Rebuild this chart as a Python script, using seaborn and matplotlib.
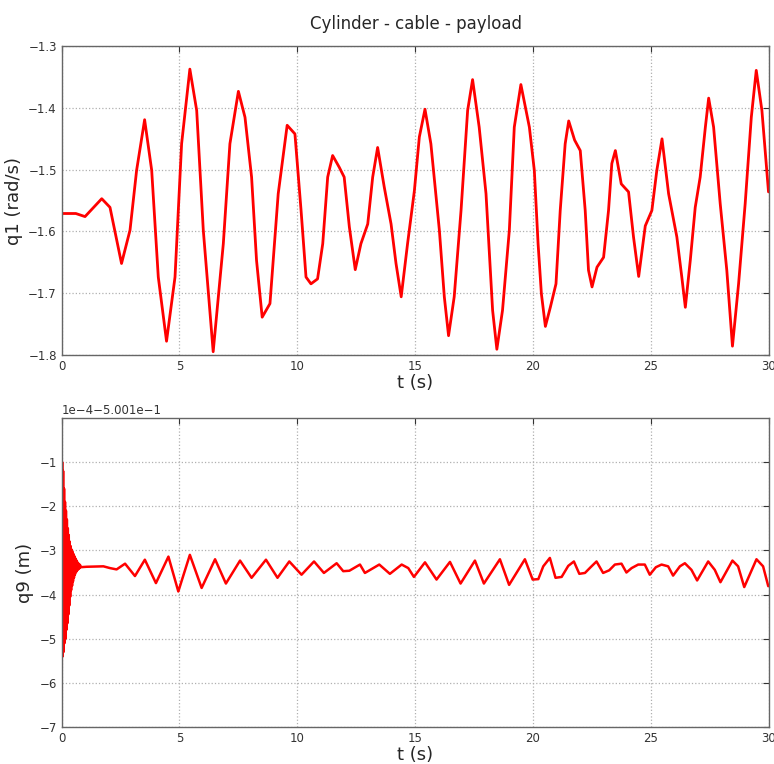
import numpy as np
import pandas as pd
import matplotlib
matplotlib.use("Agg")
import matplotlib.pyplot as plt
import seaborn as sns

sns.set_style("white")
plt.rcParams['font.family'] = ['DejaVu Sans']

# q1 (rad/s)
t1 = [0.0, 0.6, 0.99, 1.70, 2.05, 2.54, 2.90, 3.18, 3.52, 3.82, 4.10, 4.45, 4.81,
      5.09, 5.44, 5.73, 6.01, 6.43, 6.86, 7.14, 7.50, 7.78, 8.06, 8.27, 8.51, 8.84,
      9.19, 9.57, 9.90, 10.16, 10.37, 10.58, 10.86, 11.08, 11.29, 11.50, 11.78,
      11.99, 12.21, 12.46, 12.70, 12.99, 13.20, 13.41, 13.69, 13.98, 14.19, 14.41,
      14.68, 14.97, 15.18, 15.42, 15.67, 16.03, 16.24, 16.42, 16.66, 16.95, 17.23,
      17.44, 17.72, 18.01, 18.29, 18.47, 18.71, 19.00, 19.21, 19.49, 19.85, 20.06,
      20.22, 20.36, 20.53, 20.74, 20.98, 21.16, 21.37, 21.52, 21.77, 22.01, 22.22,
      22.36, 22.51, 22.72, 23.00, 23.21, 23.35, 23.50, 23.75, 24.06, 24.27, 24.49,
      24.77, 25.05, 25.26, 25.48, 25.76, 26.11, 26.32, 26.47, 26.68, 26.89, 27.10,
      27.32, 27.46, 27.67, 27.95, 28.23, 28.47, 28.73, 29.01, 29.27, 29.48, 29.72,
      30.0]
q1 = [-1.571, -1.571, -1.576, -1.547, -1.561, -1.652, -1.598, -1.501, -1.419,
      -1.501, -1.674, -1.778, -1.674, -1.458, -1.337, -1.404, -1.598, -1.795,
      -1.620, -1.458, -1.373, -1.415, -1.512, -1.647, -1.739, -1.717, -1.539,
      -1.428, -1.442, -1.566, -1.674, -1.685, -1.677, -1.620, -1.512, -1.477,
      -1.496, -1.512, -1.593, -1.662, -1.620, -1.588, -1.512, -1.464, -1.528,
      -1.588, -1.652, -1.706, -1.620, -1.534, -1.447, -1.402, -1.458, -1.598,
      -1.706, -1.769, -1.706, -1.566, -1.404, -1.354, -1.431, -1.539, -1.728,
      -1.791, -1.728, -1.598, -1.431, -1.362, -1.431, -1.501, -1.620, -1.701,
      -1.754, -1.723, -1.685, -1.566, -1.458, -1.421, -1.452, -1.469, -1.566,
      -1.663, -1.690, -1.658, -1.642, -1.566, -1.490, -1.469, -1.523, -1.536,
      -1.609, -1.673, -1.591, -1.566, -1.501, -1.450, -1.539, -1.609, -1.674,
      -1.723, -1.647, -1.561, -1.512, -1.431, -1.384, -1.431, -1.555, -1.663,
      -1.786, -1.685, -1.555, -1.415, -1.339, -1.404, -1.536]

# q9 (m), in units of 1e-4 around -5.001e-1
t9 = [0.00, 0.02, 0.04, 0.06, 0.08, 0.10, 0.12, 0.14, 0.16, 0.18, 0.20, 0.22,
      0.24, 0.26, 0.28, 0.30, 0.32, 0.34, 0.36, 0.38, 0.40, 0.42, 0.44, 0.46,
      0.48, 0.50, 0.52, 0.54, 0.56, 0.58, 0.60, 0.62, 0.64, 0.66, 0.68, 0.70,
      0.72, 0.74, 0.76, 0.78, 0.80, 1.06, 1.77, 2.05, 2.33, 2.69, 3.11, 3.53,
      4.00, 4.53, 4.95, 5.44, 5.94, 6.51, 6.97, 7.57, 8.06, 8.67, 9.16, 9.66,
      10.18, 10.71, 11.13, 11.67, 11.95, 12.21, 12.66, 12.87, 13.48, 13.93,
      14.43, 14.71, 14.95, 15.42, 15.91, 16.48, 16.93, 17.54, 17.92, 18.60,
      18.99, 19.66, 19.99, 20.23, 20.44, 20.72, 20.96, 21.22, 21.50, 21.74,
      21.97, 22.21, 22.45, 22.70, 22.98, 23.24, 23.48, 23.76, 23.97, 24.19,
      24.47, 24.75, 24.96, 25.22, 25.46, 25.74, 25.95, 26.24, 26.45, 26.73,
      26.97, 27.44, 27.72, 27.96, 28.47, 28.71, 28.97, 29.49, 29.77, 29.99]
q9 = [-6.5, -1.0, -5.4, -1.2, -5.3, -1.6, -5.1, -1.9, -5.0, -2.1, -4.8, -2.3,
      -4.65, -2.5, -4.45, -2.65, -4.25, -2.8, -4.05, -2.9, -3.9, -2.98, -3.8,
      -3.03, -3.7, -3.08, -3.62, -3.13, -3.55, -3.18, -3.5, -3.22, -3.47, -3.26,
      -3.44, -3.29, -3.42, -3.31, -3.40, -3.33, -3.38, -3.37, -3.36, -3.40, -3.43,
      -3.30, -3.58, -3.21, -3.74, -3.14, -3.93, -3.10, -3.85, -3.20, -3.75,
      -3.23, -3.62, -3.21, -3.62, -3.25, -3.55, -3.25, -3.51, -3.29, -3.47,
      -3.46, -3.32, -3.51, -3.32, -3.53, -3.32, -3.40, -3.60, -3.27, -3.66,
      -3.26, -3.75, -3.23, -3.75, -3.20, -3.78, -3.20, -3.66, -3.65, -3.36,
      -3.17, -3.62, -3.60, -3.35, -3.25, -3.53, -3.51, -3.38, -3.25, -3.51,
      -3.45, -3.32, -3.30, -3.50, -3.40, -3.32, -3.32, -3.55, -3.38, -3.32,
      -3.36, -3.57, -3.36, -3.29, -3.44, -3.68, -3.25, -3.44, -3.72, -3.23,
      -3.36, -3.83, -3.20, -3.36, -3.81]

df1 = pd.DataFrame({"t": t1, "q1": q1})
df9 = pd.DataFrame({"t": t9, "q9": q9})

fig = plt.figure(figsize=(7.74, 7.64), dpi=100)
ax1 = fig.add_axes([0.0797, 0.5356, 0.9132, 0.4038])
ax2 = fig.add_axes([0.0797, 0.0484, 0.9132, 0.4045])

sns.lineplot(data=df1, x="t", y="q1", ax=ax1, color="red", lw=2, sort=False,
             solid_joinstyle="round", solid_capstyle="round")
sns.lineplot(data=df9, x="t", y="q9", ax=ax2, color="red", lw=1.8, sort=False,
             solid_joinstyle="round", solid_capstyle="round")

ax1.set_xlim(0, 30)
ax1.set_ylim(-1.8, -1.3)
ax1.set_yticks([-1.8, -1.7, -1.6, -1.5, -1.4, -1.3])
ax1.set_ylabel("q1 (rad/s)", fontsize=13)

ax2.set_xlim(0, 30)
ax2.set_ylim(-7, 0)
ax2.set_yticks([-7, -6, -5, -4, -3, -2, -1])
ax2.set_ylabel("q9 (m)", fontsize=13)
ax2.text(0, 1.004, "1e\u22124\u22125.001e\u22121", transform=ax2.transAxes,
         ha="left", va="bottom", fontsize=8.5, color="#333333")

for ax in (ax1, ax2):
    ax.set_xticks([0, 5, 10, 15, 20, 25, 30])
    ax.set_xlabel("t (s)", fontsize=13, labelpad=1)
    ax.grid(True, linestyle=":", color="#b0b0b0", lw=0.9)
    ax.tick_params(direction="in", length=4, labelsize=8.5, colors="#333333",
                   top=True, right=True)
    for s in ax.spines.values():
        s.set_color("#666666")
        s.set_linewidth(1)

fig.suptitle("Cylinder - cable - payload", fontsize=12, x=0.537, y=0.98)

fig.savefig("out.png", dpi=100)
